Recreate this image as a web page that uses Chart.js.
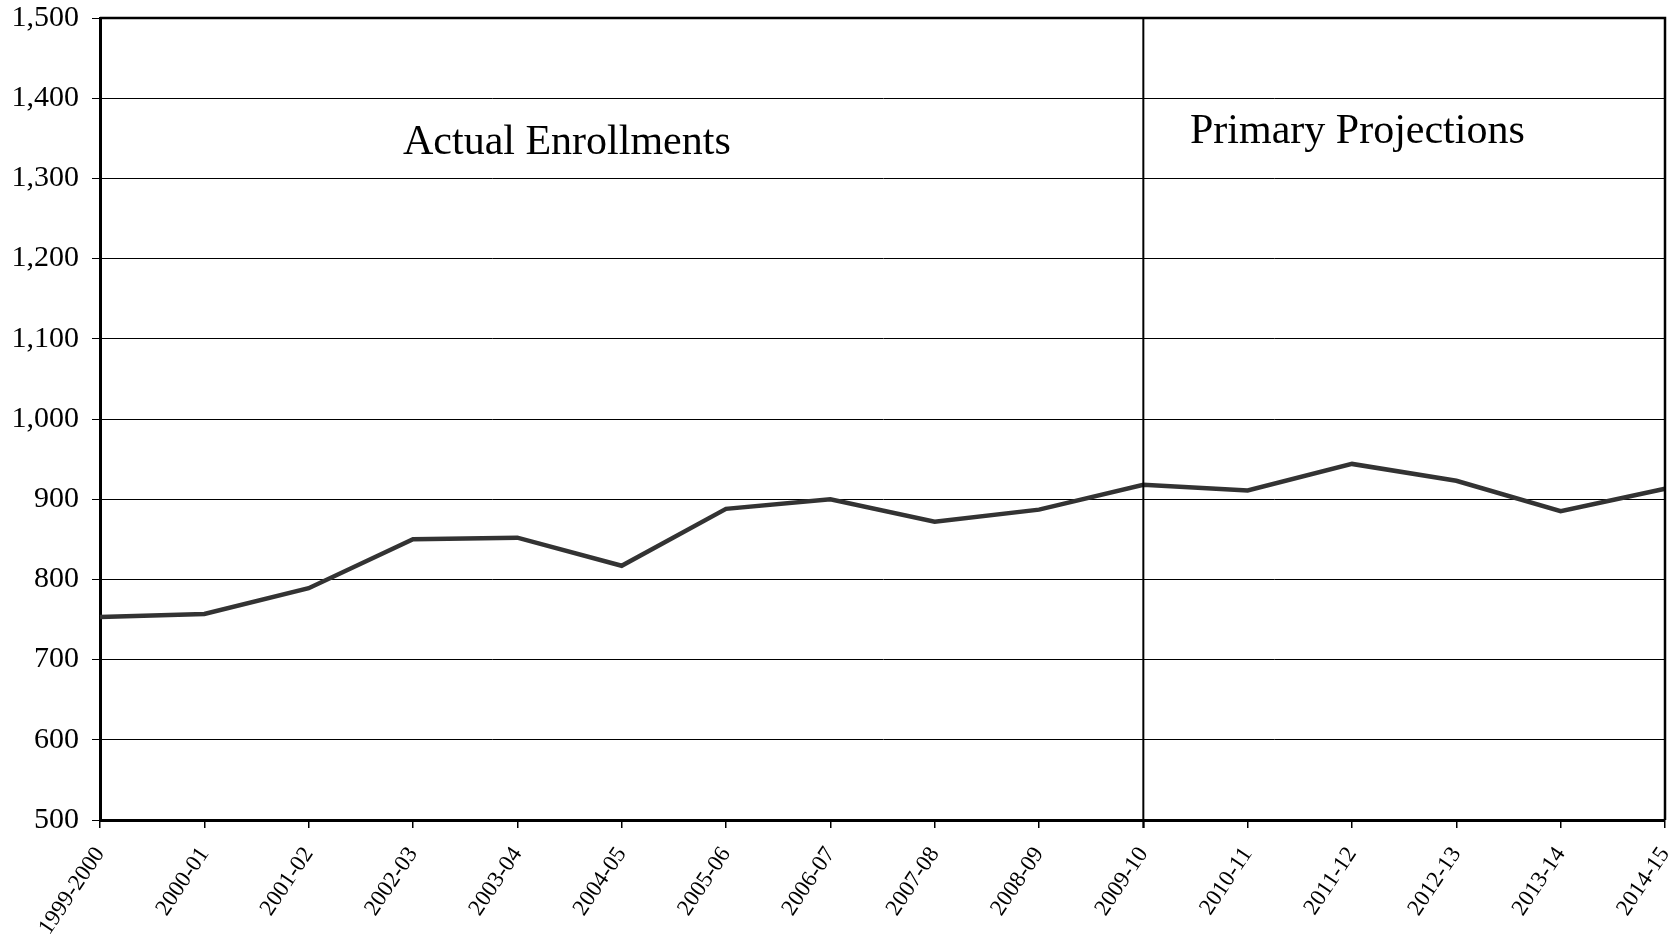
<!DOCTYPE html>
<html>
<head>
<meta charset="utf-8">
<script src="https://cdn.jsdelivr.net/npm/chart.js@4/dist/chart.umd.min.js"></script>
<style>
  html, body { margin: 0; padding: 0; background: #fff; }
  #chart { display: block; }
</style>
</head>
<body>
<canvas id="chart" width="1670" height="939"></canvas>
<script>
'use strict';

// ── Data ──────────────────────────────────────────────────────
const schoolYears = [
  '1999-2000', '2000-01', '2001-02', '2002-03', '2003-04', '2004-05',
  '2005-06', '2006-07', '2007-08', '2008-09', '2009-10', '2010-11',
  '2011-12', '2012-13', '2013-14', '2014-15'
];
const enrollments = [753, 757, 789, 850, 852, 817, 888, 900, 872, 887, 918, 911, 944, 923, 885, 913];
const yTicks      = [500, 600, 700, 800, 900, 1000, 1100, 1200, 1300, 1400, 1500];
const splitYear   = '2009-10';
const periodNotes = ['Actual Enrollments', 'Primary Projections'];

const SERIF = '"Liberation Serif", "Times New Roman", serif';

// ── Frame, divider & notes ────────────────────────────────────
const framePlugin = {
  id: 'frame',
  afterDatasetsDraw(chart) {
    const { ctx, chartArea: a, scales } = chart;
    const xSplit = scales.x.getPixelForValue(schoolYears.indexOf(splitYear));
    ctx.save();
    ctx.strokeStyle = '#000';
    ctx.lineWidth = 2;
    ctx.beginPath();
    ctx.moveTo(xSplit, a.top);
    ctx.lineTo(xSplit, a.bottom + 8);
    ctx.stroke();

    ctx.lineWidth = 2.5;
    ctx.beginPath();
    ctx.moveTo(a.left, a.top);
    ctx.lineTo(a.right, a.top);
    ctx.lineTo(a.right, a.bottom);
    ctx.stroke();

    ctx.fillStyle = '#000';
    ctx.font = '42px ' + SERIF;
    ctx.textBaseline = 'alphabetic';
    ctx.textAlign = 'left';
    ctx.fillText(periodNotes[0], a.left + 303, a.top + 136);
    ctx.fillText(periodNotes[1], a.left + 1090, a.top + 125);
    ctx.restore();
  }
};

new Chart(document.getElementById('chart'), {
  type: 'line',
  data: {
    labels: schoolYears,
    datasets: [{
      data: enrollments,
      borderColor: '#333333',
      borderWidth: 4.5,
      pointRadius: 0,
      tension: 0,
      fill: false
    }]
  },
  options: {
    responsive: false,
    animation: false,
    devicePixelRatio: 1,
    layout: { padding: { top: 18, right: 5, left: 0, bottom: 0 } },
    plugins: { legend: { display: false }, tooltip: { enabled: false } },
    scales: {
      x: {
        offset: false,
        grid: { drawOnChartArea: false, drawTicks: true, tickLength: 8, tickColor: '#000', lineWidth: 1.5 },
        border: { color: '#000', width: 3 },
        ticks: {
          color: '#000',
          font: { family: SERIF, size: 23 },
          minRotation: 56,
          maxRotation: 56,
          autoSkip: false,
          padding: 14
        },
        afterFit(scale) {
          scale.height = 119;
          scale.paddingLeft = 0;
          scale.paddingRight = 0;
        }
      },
      y: {
        min: yTicks[0],
        max: yTicks[yTicks.length - 1],
        afterBuildTicks(scale) { scale.ticks = yTicks.map(v => ({ value: v })); },
        grid: { color: '#000', lineWidth: 1, tickLength: 8, tickColor: '#000' },
        border: { color: '#000', width: 3 },
        ticks: {
          color: '#000',
          font: { family: SERIF, size: 30 },
          padding: 13,
          callback: v => v.toLocaleString('en-US')
        },
        afterFit(scale) {
          scale.width = 100;
          scale.paddingTop = 0;
          scale.paddingBottom = 0;
        }
      }
    }
  },
  plugins: [framePlugin]
});
</script>
</body>
</html>
